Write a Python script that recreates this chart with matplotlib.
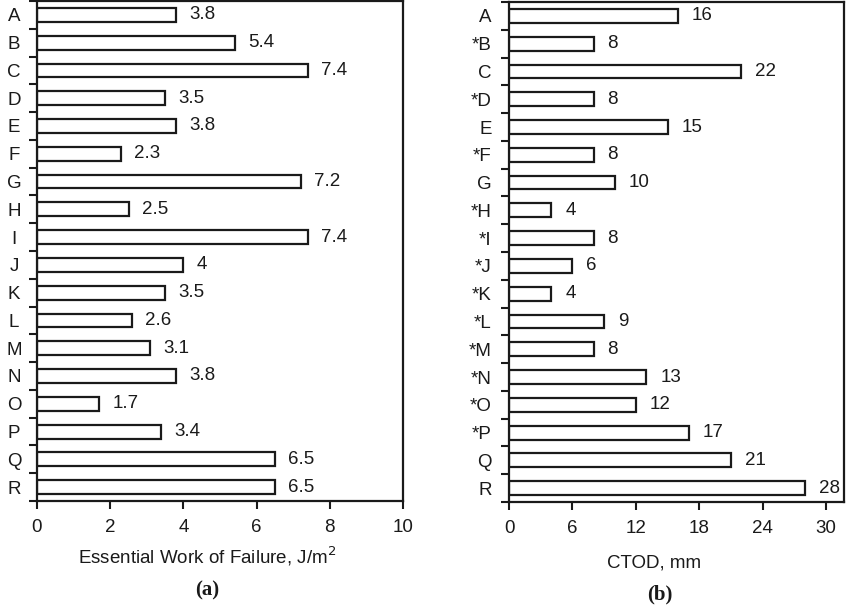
import matplotlib
matplotlib.use("Agg")
import matplotlib.pyplot as plt
import numpy as np

plt.rcParams['font.family'] = ['Liberation Sans', 'DejaVu Sans']

left_cats = ["A", "B", "C", "D", "E", "F", "G", "H", "I", "J", "K", "L", "M", "N", "O", "P", "Q", "R"]
left_vals = [3.8, 5.4, 7.4, 3.5, 3.8, 2.3, 7.2, 2.5, 7.4, 4, 3.5, 2.6, 3.1, 3.8, 1.7, 3.4, 6.5, 6.5]
left_xticks = [0, 2, 4, 6, 8, 10]

right_cats = ["A", "*B", "C", "*D", "E", "*F", "G", "*H", "*I", "*J", "*K", "*L", "*M", "*N", "*O", "*P", "Q", "R"]
right_vals = [16, 8, 22, 8, 15, 8, 10, 4, 8, 6, 4, 9, 8, 13, 12, 17, 21, 28]
right_xticks = [0, 6, 12, 18, 24, 30]

W, H = 850, 608
FS = 13.5
fig = plt.figure(figsize=(W / 100, H / 100), dpi=100)

def ax_rect(x0, x1, y0, y1):
    return [x0 / W, 1 - y1 / H, (x1 - x0) / W, (y1 - y0) / H]

axL = fig.add_axes(ax_rect(37, 403, 1, 501))
axR = fig.add_axes(ax_rect(509, 844, 2, 502))

def draw(ax, cats, vals, xticks, xmax, ylabel_pad, ylabel_ha, val_off):
    n = len(cats)
    y = np.arange(n)
    ax.barh(y, vals, height=0.5, color="white", edgecolor="#1a1a1a", linewidth=1.6)
    for yi, v in zip(y, vals):
        ax.annotate(f"{v:g}", (v, yi), xytext=(val_off, 0), textcoords="offset points",
                    ha="left", va="center", fontsize=FS, color="#1a1a1a")
    ax.set_ylim(n - 0.5, -0.5)
    ax.set_xlim(0, xmax)
    ax.set_yticks(y)
    ax.set_yticklabels(cats, fontsize=FS, ha=ylabel_ha)
    ax.tick_params(axis="y", which="major", length=0, pad=ylabel_pad, colors="#1a1a1a")
    ax.set_yticks(np.arange(-0.5, n, 1), minor=True)
    ax.tick_params(axis="y", which="minor", length=6, width=1.5, direction="out", color="#1a1a1a")
    ax.set_xticks(xticks)
    ax.tick_params(axis="x", length=6, width=1.5, direction="out", pad=7, labelsize=FS,
                   colors="#1a1a1a")
    for s in ax.spines.values():
        s.set_linewidth(1.6)
        s.set_color("#1a1a1a")

draw(axL, left_cats, left_vals, left_xticks, 10, 16.5, "center", 9.5)
draw(axR, right_cats, right_vals, right_xticks, 31.7, 12.5, "right", 10)

fig.text(207 / W, 1 - 556 / H, "Essential Work of Failure, J/m$^2$", ha="center", va="center",
         fontsize=FS, color="#1a1a1a")
fig.text(654 / W, 1 - 563 / H, "CTOD, mm", ha="center", va="center", fontsize=FS, color="#1a1a1a")
fig.text(207 / W, 1 - 590 / H, "(a)", ha="center", va="center", fontsize=15, fontweight="bold",
         family=["Liberation Serif"], color="#1a1a1a")
fig.text(660 / W, 1 - 594 / H, "(b)", ha="center", va="center", fontsize=15, fontweight="bold",
         family=["Liberation Serif"], color="#1a1a1a")

fig.savefig("out.png", dpi=100)
